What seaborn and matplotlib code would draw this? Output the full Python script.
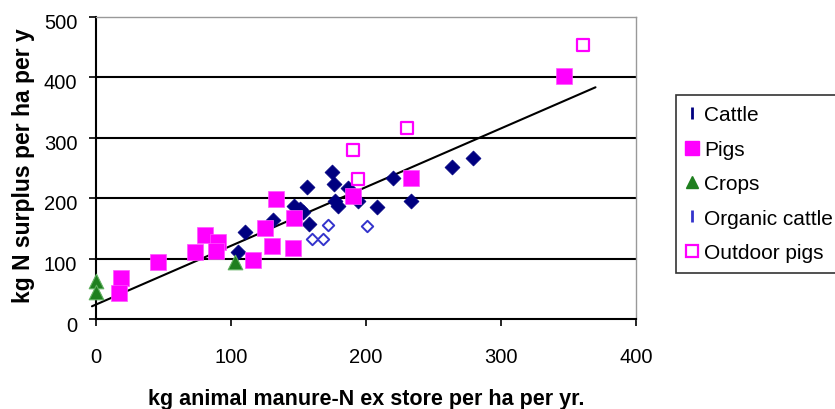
import matplotlib
matplotlib.use("Agg")
import matplotlib.pyplot as plt
from matplotlib.lines import Line2D
from matplotlib.transforms import ScaledTranslation
import seaborn as sns
import pandas as pd

# ---- data ----
cattle_x = [105, 110, 131, 147, 153, 156, 158, 151, 175, 176, 187, 177, 179, 194, 208, 220, 233, 264, 279]
cattle_y = [111, 144, 164, 187, 177, 218, 157, 182, 243, 223, 216, 195, 187, 195, 185, 233, 195, 251, 266]
pigs_x = [18.5, 17, 46, 73, 81, 90, 89, 116, 125, 130, 133, 146, 147, 190, 233, 347]
pigs_y = [68, 43, 94, 111, 139, 127, 112, 97, 150, 121, 198, 117, 167, 203, 233, 402]
crops_x = [0, 0, 103]
crops_y = [63, 45, 94]
organic_x = [160, 168, 172, 201]
organic_y = [132, 132, 155, 154]
outdoor_x = [190, 194, 230, 361]
outdoor_y = [279, 231, 316, 453]
trend_x = [-3, 370]
trend_y = [21, 383]

x_ticks = [0, 100, 200, 300, 400]
y_ticks = [0, 100, 200, 300, 400, 500]
x_label = "kg animal manure-N ex store per ha per yr."
y_label = "kg N surplus per ha per y"
legend_labels = ["Cattle", "Pigs", "Crops", "Organic cattle", "Outdoor pigs"]

sns.set_theme(style="white")
plt.rcParams['font.family'] = ['Liberation Sans', 'DejaVu Sans']
plt.rcParams['text.color'] = 'black'
plt.rcParams['axes.labelcolor'] = 'black'
plt.rcParams['xtick.color'] = 'black'
plt.rcParams['ytick.color'] = 'black'

fig = plt.figure(figsize=(8.35, 4.1), dpi=100)
ax = fig.add_axes([96/835, 1-320/410, (636-96)/835, (320-17.5)/410])

NAVY = "#000080"
MAG = "#FF00FF"
GREEN = "#1F7F1F"
BLUE = "#3333CC"

for y in [100, 200, 300, 400]:
    ax.axhline(y, color="black", lw=1.5, zorder=1)

sns.lineplot(x=trend_x, y=trend_y, ax=ax, color="black", lw=1.5, zorder=2)
for l in ax.lines:
    l.set_clip_on(False)

df_c = pd.DataFrame({"x": cattle_x, "y": cattle_y})
sns.scatterplot(data=df_c, x="x", y="y", ax=ax, marker="D", s=58, color=NAVY,
                edgecolor=NAVY, linewidth=0.5, zorder=3, clip_on=False)
df_o = pd.DataFrame({"x": organic_x, "y": organic_y})
sns.scatterplot(data=df_o, x="x", y="y", ax=ax, marker="D", s=34, facecolor="white",
                edgecolor=BLUE, linewidth=1.4, zorder=3, clip_on=False)
df_p = pd.DataFrame({"x": pigs_x, "y": pigs_y})
sns.scatterplot(data=df_p, x="x", y="y", ax=ax, marker="s", s=125, color=MAG,
                edgecolor="#FF55FF", linewidth=0.5, zorder=4, clip_on=False)
df_cr = pd.DataFrame({"x": crops_x, "y": crops_y})
sns.scatterplot(data=df_cr, x="x", y="y", ax=ax, marker="^", s=110, color=GREEN,
                edgecolor="#5FAF5F", linewidth=0.8, zorder=4, clip_on=False)
df_od = pd.DataFrame({"x": outdoor_x, "y": outdoor_y})
sns.scatterplot(data=df_od, x="x", y="y", ax=ax, marker="s", s=85, facecolor="white",
                edgecolor=MAG, linewidth=1.6, zorder=4, clip_on=False)

ax.set_xlim(0, 400)
ax.set_ylim(0, 500)
ax.set_xticks(x_ticks)
ax.set_yticks(y_ticks)
ax.tick_params(axis="both", labelsize=14.5, direction="out", length=5, width=1.2,
               colors="black", labelcolor="black", bottom=True, left=True)
ax.tick_params(axis="x", pad=15.5)
ax.tick_params(axis="y", pad=8.5)
off = ScaledTranslation(0, -4/100, fig.dpi_scale_trans)
for lab in ax.get_yticklabels():
    lab.set_transform(lab.get_transform() + off)
for side in ["left", "bottom"]:
    ax.spines[side].set_color("black")
    ax.spines[side].set_linewidth(1.5)
for side in ["top", "right"]:
    ax.spines[side].set_color("#999999")
    ax.spines[side].set_linewidth(1.0)

ax.set_xlabel(x_label, fontsize=15.5, fontweight="bold", color="black")
ax.set_ylabel(y_label, fontsize=16.5, fontweight="bold", color="black")
ax.xaxis.set_label_coords(0.5, (320-389)/302.5)
ax.yaxis.set_label_coords((35-96)/540, (320-165.5)/302.5)

handles = [
    Line2D([], [], marker="|", linestyle="none", color=NAVY, markersize=9, markeredgewidth=2),
    Line2D([], [], marker="s", linestyle="none", color=MAG, markersize=10),
    Line2D([], [], marker="^", linestyle="none", color=GREEN, markersize=9),
    Line2D([], [], marker="|", linestyle="none", color=BLUE, markersize=9, markeredgewidth=2),
    Line2D([], [], marker="s", linestyle="none", markerfacecolor="white",
           markeredgecolor=MAG, markersize=9, markeredgewidth=1.6),
]
leg = fig.legend(handles, legend_labels, loc="upper left", bbox_to_anchor=(676/835, 1-96/410),
                 bbox_transform=fig.transFigure, fontsize=15, frameon=True, fancybox=False,
                 edgecolor="black", borderaxespad=0, handlelength=0.55, handletextpad=0.3,
                 labelspacing=0.74, borderpad=0.5)
leg.get_frame().set_linewidth(1.2)
for t in leg.get_texts():
    t.set_color("black")

fig.savefig("out.png", dpi=100)
